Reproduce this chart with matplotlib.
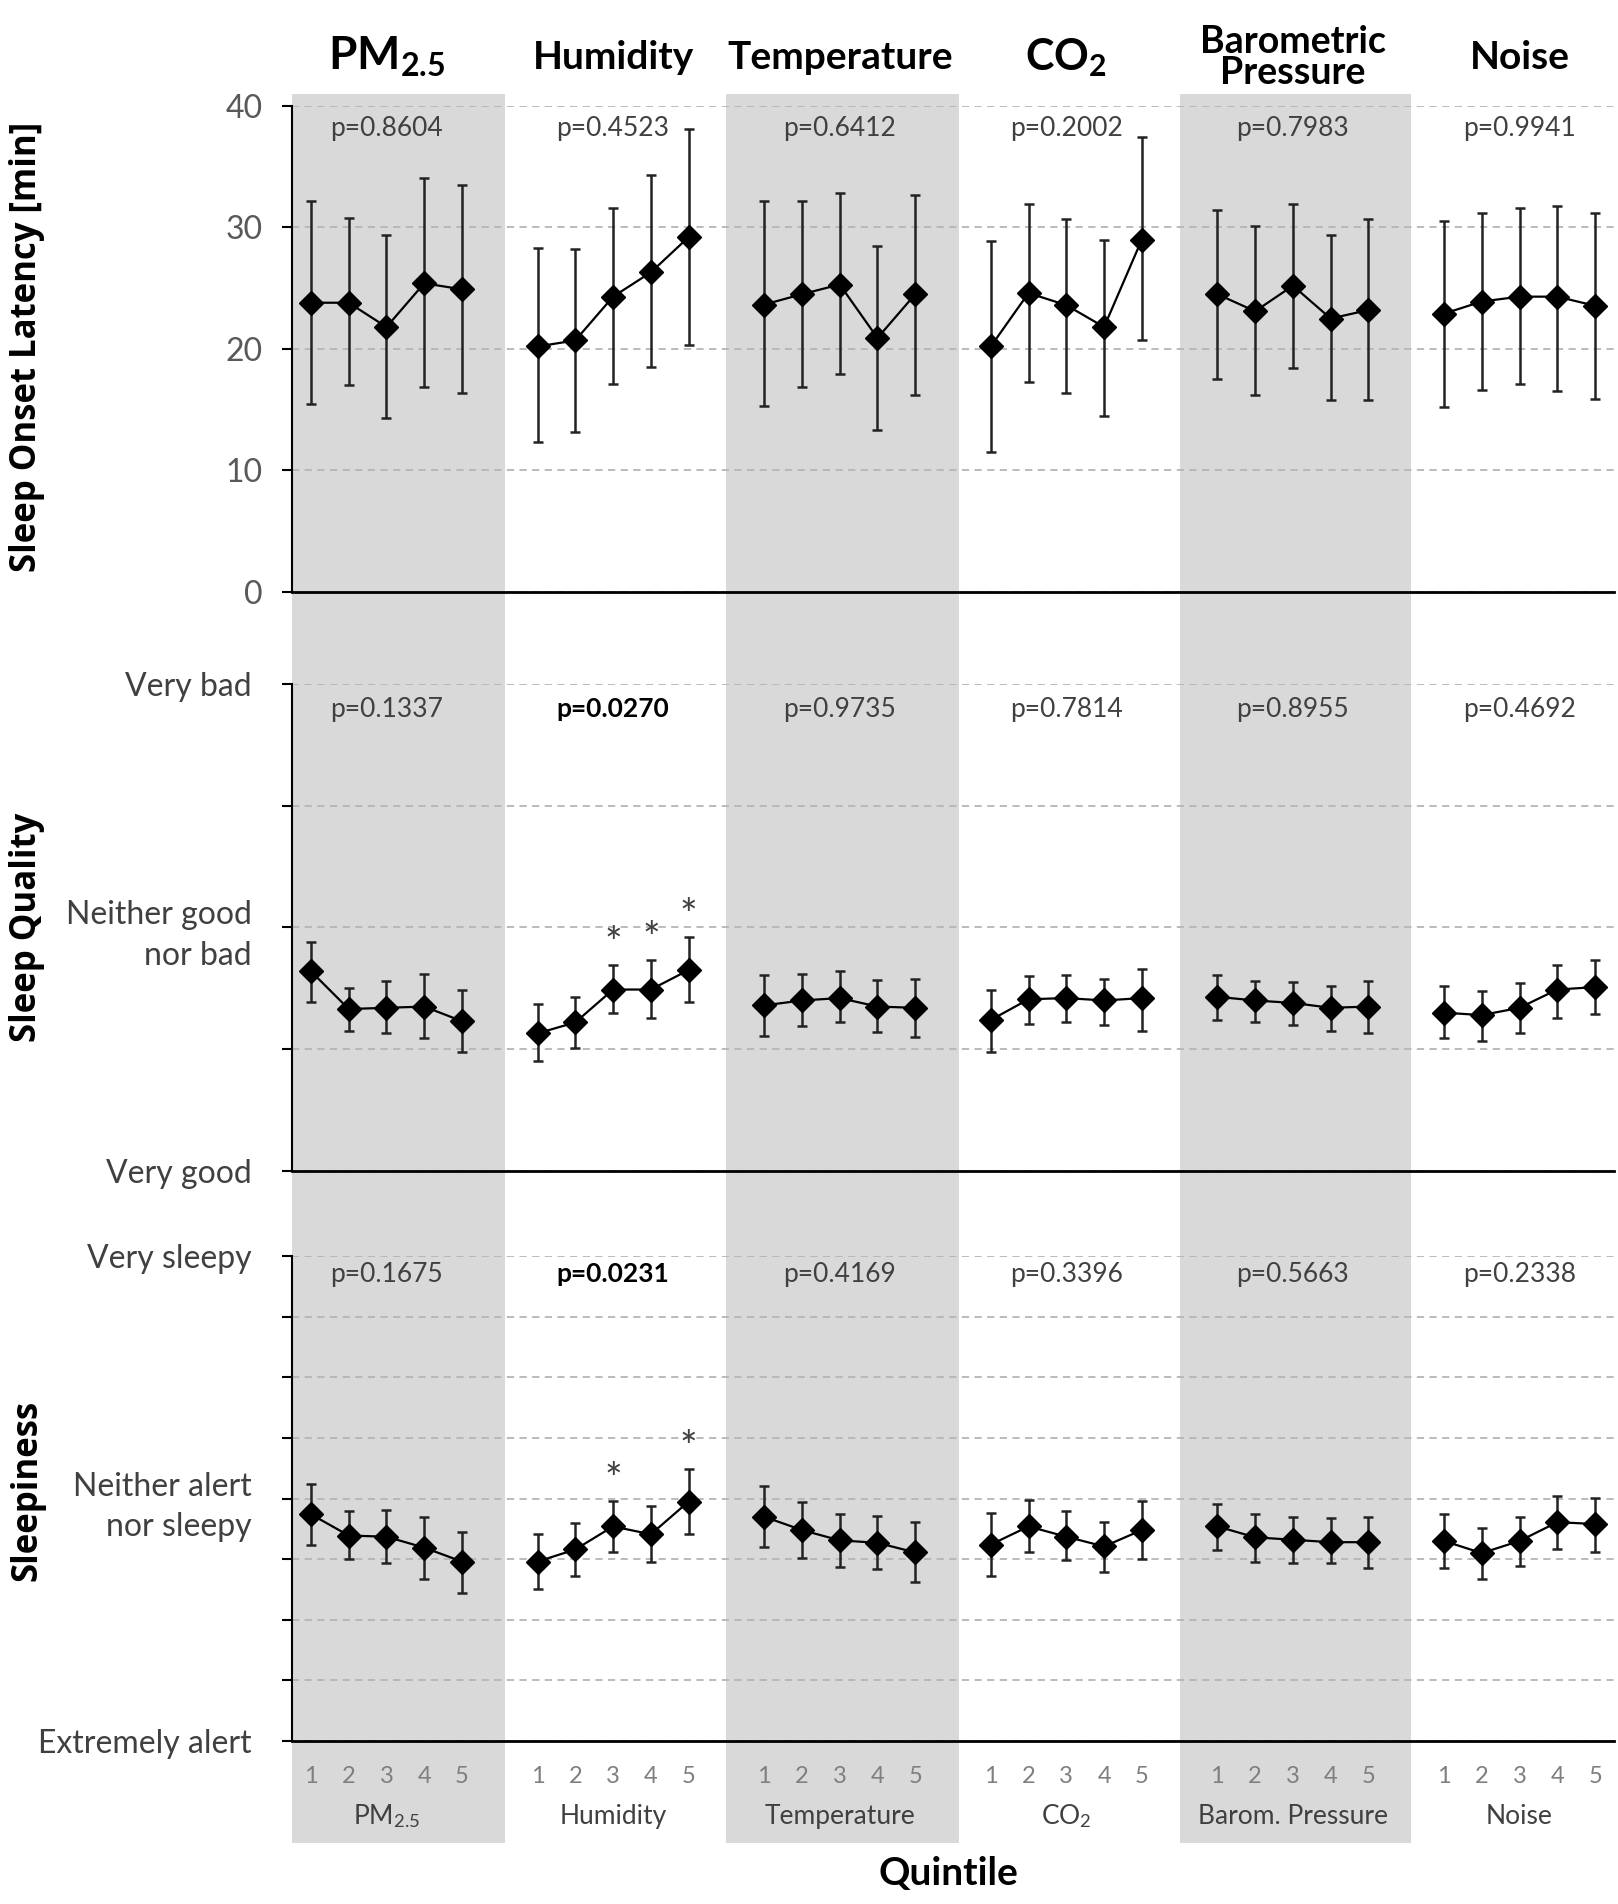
import matplotlib.pyplot as plt
import numpy as np

plt.rcParams['font.family'] = ['Lato', 'DejaVu Sans']
plt.rcParams['mathtext.fontset'] = 'custom'
plt.rcParams['mathtext.rm'] = 'Lato'
plt.rcParams['mathtext.bf'] = 'Lato:bold'
plt.rcParams['mathtext.it'] = 'Lato:italic'

# Column headers / group labels
titles = [r'$\mathbf{PM_{2.5}}$', 'Humidity', 'Temperature', r'$\mathbf{CO_2}$',
          'Barometric\nPressure', 'Noise']
title_sizes = [33, 28, 28, 31, 27, 28]
group_labels = [r'PM$_{\mathrm{2.5}}$', 'Humidity', 'Temperature', r'CO$_{\mathrm{2}}$',
                'Barom. Pressure', 'Noise']
quintiles = ['1', '2', '3', '4', '5']

# Sleep onset latency [min]
latency_mean = [[23.8, 23.8, 21.8, 25.4, 24.9], [20.2, 20.7, 24.3, 26.3, 29.2],
                [23.65, 24.5, 25.3, 20.9, 24.5], [20.2, 24.6, 23.6, 21.8, 29.0],
                [24.5, 23.1, 25.2, 22.5, 23.2], [22.9, 23.9, 24.3, 24.3, 23.55]]
latency_hi = [[32.2, 30.75, 29.4, 34.1, 33.5], [28.3, 28.2, 31.6, 34.3, 38.1],
              [32.2, 32.2, 32.8, 28.5, 32.7], [28.9, 31.9, 30.7, 29.0, 37.4],
              [31.4, 30.1, 31.9, 29.4, 30.7], [30.5, 31.2, 31.6, 31.8, 31.2]]
latency_lo = [[15.5, 17.0, 14.3, 16.9, 16.4], [12.3, 13.2, 17.1, 18.5, 20.3],
              [15.3, 16.9, 17.9, 13.3, 16.2], [11.5, 17.3, 16.4, 14.5, 20.7],
              [17.5, 16.2, 18.4, 15.8, 15.8], [15.2, 16.6, 17.1, 16.5, 15.9]]
latency_p = ['p=0.8604', 'p=0.4523', 'p=0.6412', 'p=0.2002', 'p=0.7983', 'p=0.9941']

# Sleep quality (1 = very good ... 5 = very bad)
quality_mean = [[2.64, 2.33, 2.34, 2.35, 2.23], [2.13, 2.22, 2.49, 2.49, 2.65],
                [2.36, 2.40, 2.42, 2.35, 2.34], [2.24, 2.41, 2.42, 2.40, 2.42],
                [2.43, 2.40, 2.38, 2.34, 2.35], [2.30, 2.28, 2.34, 2.49, 2.51]]
quality_hi = [[2.88, 2.50, 2.56, 2.62, 2.49], [2.37, 2.43, 2.69, 2.73, 2.92],
              [2.61, 2.62, 2.64, 2.57, 2.58], [2.49, 2.60, 2.61, 2.58, 2.66],
              [2.61, 2.56, 2.55, 2.52, 2.56], [2.52, 2.48, 2.54, 2.69, 2.73]]
quality_lo = [[2.39, 2.15, 2.13, 2.09, 1.98], [1.90, 2.01, 2.30, 2.26, 2.39],
              [2.11, 2.19, 2.22, 2.14, 2.10], [1.98, 2.21, 2.22, 2.20, 2.15],
              [2.24, 2.22, 2.20, 2.15, 2.13], [2.09, 2.07, 2.13, 2.26, 2.29]]
quality_p = ['p=0.1337', 'p=0.0270', 'p=0.9735', 'p=0.7814', 'p=0.8955', 'p=0.4692']
quality_p_bold = [False, True, False, False, False, False]
quality_sig = [(1, 2), (1, 3), (1, 4)]

# Sleepiness (1 = extremely alert ... 9 = very sleepy)
sleepy_mean = [[4.74, 4.39, 4.37, 4.19, 3.96], [3.96, 4.16, 4.54, 4.41, 4.95],
               [4.70, 4.48, 4.31, 4.27, 4.11], [4.24, 4.54, 4.37, 4.21, 4.48],
               [4.54, 4.36, 4.32, 4.28, 4.28], [4.30, 4.10, 4.30, 4.61, 4.58]]
sleepy_hi = [[5.24, 4.80, 4.81, 4.70, 4.44], [4.42, 4.59, 4.96, 4.87, 5.48],
             [5.20, 4.94, 4.74, 4.72, 4.61], [4.76, 4.98, 4.80, 4.61, 4.96],
             [4.91, 4.74, 4.70, 4.68, 4.70], [4.74, 4.52, 4.70, 5.04, 5.01]]
sleepy_lo = [[4.24, 4.01, 3.94, 3.67, 3.44], [3.50, 3.73, 4.11, 3.95, 4.41],
             [4.20, 4.02, 3.87, 3.83, 3.63], [3.72, 4.11, 3.98, 3.79, 4.00],
             [4.15, 3.96, 3.94, 3.93, 3.85], [3.85, 3.67, 3.89, 4.16, 4.11]]
sleepy_p = ['p=0.1675', 'p=0.0231', 'p=0.4169', 'p=0.3396', 'p=0.5663', 'p=0.2338']
sleepy_p_bold = [False, True, False, False, False, False]
sleepy_sig = [(1, 2), (1, 4)]

# shaded columns (in category units)
bands = [(0.5, 6.14), (12.0, 18.15), (24.0, 30.13)]

DARK = '#404040'
GREY = '#595959'


def group_x(g):
    return np.arange(1, 6) + 6 * g


def draw_panel(ax, mean, lo, hi, pvals, pbold, sig, ylim, p_y, star_off):
    for g in range(6):
        x = group_x(g)
        m = np.array(mean[g])
        err = [m - np.array(lo[g]), np.array(hi[g]) - m]
        ax.errorbar(x, m, yerr=err, color='black', lw=1.6, marker='D', ms=12,
                    mfc='black', mec='black', ecolor='#222222', elinewidth=1.8,
                    capsize=3.5, capthick=1.8, zorder=3)
        ax.text(3 + 6 * g, p_y, pvals[g], ha='center', va='center', fontsize=19,
                color=DARK if not pbold[g] else 'black',
                fontweight='bold' if pbold[g] else 'normal')
    for g, q in sig:
        ax.annotate('*', (group_x(g)[q], hi[g][q]), xytext=(0, star_off),
                    textcoords='offset points', ha='center', va='bottom',
                    fontsize=30, color=DARK)
    ax.set_xlim(0.5, 35.5)
    ax.set_ylim(*ylim)
    ax.set_facecolor('none')
    for s in ['top', 'right']:
        ax.spines[s].set_visible(False)
    ax.spines['left'].set_linewidth(1.5)
    ax.spines['bottom'].set_linewidth(2)
    ax.yaxis.grid(True, ls=(0, (4, 3)), color='#b5b5b5', lw=1.3)
    ax.set_axisbelow(True)
    ax.tick_params(axis='y', length=7, width=1.5, direction='out')
    ax.tick_params(axis='x', length=0)


fig = plt.figure(figsize=(16.18, 19.04), dpi=100)
left, width = 0.1805, 0.817

# background axes holding the grey bands through all panels
bg = fig.add_axes([left, 0.032, width, 0.9186])
bg.set_xlim(0.5, 35.5)
bg.set_ylim(0, 1)
bg.axis('off')
for a, b in bands:
    bg.axvspan(a, b, color='#d9d9d9', lw=0)

ax1 = fig.add_axes([left, 0.6891, width, 0.2553])
ax2 = fig.add_axes([left, 0.385, width, 0.2558])
ax3 = fig.add_axes([left, 0.0856, width, 0.2547])

draw_panel(ax1, latency_mean, latency_lo, latency_hi, latency_p, [False] * 6, [],
           (0, 40), 38.15, 6)
draw_panel(ax2, quality_mean, quality_lo, quality_hi, quality_p, quality_p_bold,
           quality_sig, (1, 5), 4.79, 1)
draw_panel(ax3, sleepy_mean, sleepy_lo, sleepy_hi, sleepy_p, sleepy_p_bold,
           sleepy_sig, (1, 9), 8.70, 1)

ax1.set_yticks([0, 10, 20, 30, 40])
ax1.tick_params(axis='y', labelsize=23, labelcolor=GREY, pad=14)
ax2.set_yticks([1, 2, 3, 4, 5])
ax2.set_yticklabels(['Very good', '', 'Neither good\nnor bad', '', 'Very bad'])
ax2.tick_params(axis='y', labelsize=23, labelcolor=DARK, pad=22)
ax3.set_yticks(range(1, 10))
ax3.set_yticklabels(['Extremely alert', '', '', '', 'Neither alert\nnor sleepy',
                     '', '', '', 'Very sleepy'])
ax3.tick_params(axis='y', labelsize=23, labelcolor=DARK, pad=22)
for lab in ax2.get_yticklabels() + ax3.get_yticklabels():
    lab.set_linespacing(1.45)

ax1.set_xticks([])
ax2.set_xticks([])
xt = np.concatenate([group_x(g) for g in range(6)])
ax3.set_xticks(xt)
ax3.set_xticklabels(quintiles * 6, fontsize=17, color='#7f7f7f')
ax3.tick_params(axis='x', pad=18)
for g in range(6):
    ax3.text(3 + 6 * g, -0.155, group_labels[g], transform=ax3.get_xaxis_transform(),
             ha='center', va='center', fontsize=19, color=DARK)
    ax1.text(3 + 6 * g, 1.1, titles[g], transform=ax1.get_xaxis_transform(),
             ha='center', va='center', fontsize=title_sizes[g], fontweight='bold',
             linespacing=0.9)

fig.text(0.586, 1 - 1873 / 1904, 'Quintile', ha='center', va='center',
         fontsize=28, fontweight='bold')
for y, lab in [(1 - 347 / 1904, 'Sleep Onset Latency [min]'),
               (1 - 927 / 1904, 'Sleep Quality'),
               (1 - 1490 / 1904, 'Sleepiness')]:
    fig.text(27 / 1618, y, lab, rotation=90, ha='center', va='center',
             fontsize=25, fontweight='bold', family=['Open Sans', 'DejaVu Sans'])

fig.savefig('out.png', dpi=100)
